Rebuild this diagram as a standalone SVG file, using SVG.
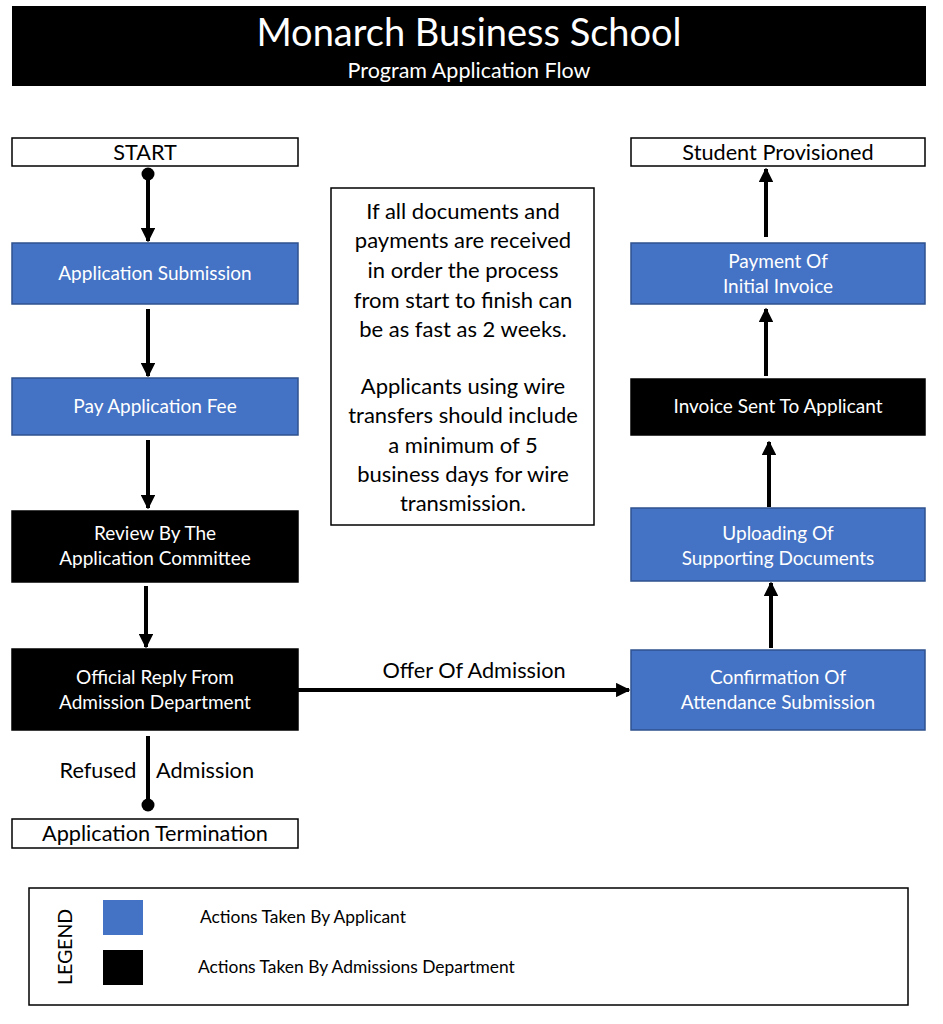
<svg xmlns="http://www.w3.org/2000/svg" width="943" height="1024" viewBox="0 0 943 1024">
<defs>
<style>
text{font-family:Lato,"Open Sans","Liberation Sans",sans-serif;text-anchor:middle}
.blue{fill:#4472C4;stroke:#2F528F;stroke-width:1.5}
.black{fill:#000;stroke:#000;stroke-width:1.5}
.white{fill:#fff;stroke:#000;stroke-width:1.5}
.wt{fill:#fff;font-size:19px}
.bt{fill:#000;font-size:21.7px}
.con{stroke:#000;stroke-width:4;fill:none}
</style>
<marker id="ah" viewBox="0 0 10 10" refX="9" refY="5" markerWidth="3.6" markerHeight="3.6" orient="auto" markerUnits="strokeWidth">
<path d="M0,0 L10,5 L0,10 z" fill="#000"/>
</marker>
</defs>
<rect width="943" height="1024" fill="#fff"/>
<g id="title">
<rect x="12" y="6" width="914" height="80" fill="#000"/>
<text x="469" y="46" fill="#fff" style="font-size:38px">Monarch Business School</text>
<text x="469" y="78" fill="#fff" style="font-size:21.5px">Program Application Flow</text>
</g>
<g id="start"><rect class="white" x="12" y="138" width="286" height="28"/><text class="bt" x="145" y="160">START</text></g>
<g id="app-sub"><rect class="blue" x="12" y="243" width="286" height="61"/><text class="wt" x="155" y="280">Application Submission</text></g>
<g id="pay-fee"><rect class="blue" x="12" y="378" width="286" height="57"/><text class="wt" x="155" y="413">Pay Application Fee</text></g>
<g id="review"><rect class="black" x="12" y="511" width="286" height="71"/><text class="wt" x="155" y="540">Review By The</text><text class="wt" x="155" y="565">Application Committee</text></g>
<g id="reply"><rect class="black" x="12" y="649" width="286" height="81"/><text class="wt" x="155" y="684">Official Reply From</text><text class="wt" x="155" y="709">Admission Department</text></g>
<g id="termination"><rect class="white" x="12" y="819" width="286" height="29"/><text class="bt" x="155" y="841">Application Termination</text></g>
<g id="provisioned"><rect class="white" x="631" y="138" width="294" height="28"/><text class="bt" x="778" y="160">Student Provisioned</text></g>
<g id="payment"><rect class="blue" x="631" y="243" width="294" height="61"/><text class="wt" x="778" y="268">Payment Of</text><text class="wt" x="778" y="293">Initial Invoice</text></g>
<g id="invoice"><rect class="black" x="631" y="379" width="294" height="56"/><text class="wt" x="778" y="413">Invoice Sent To Applicant</text></g>
<g id="uploading"><rect class="blue" x="631" y="508" width="294" height="73"/><text class="wt" x="778" y="540">Uploading Of</text><text class="wt" x="778" y="565">Supporting Documents</text></g>
<g id="confirmation"><rect class="blue" x="631" y="650" width="294" height="80"/><text class="wt" x="778" y="684">Confirmation Of</text><text class="wt" x="778" y="709">Attendance Submission</text></g>
<g id="note">
<rect class="white" x="331" y="188" width="263" height="337"/>
<g class="bt" style="font-size:22px">
<text x="463" y="219">If all documents and</text>
<text x="463" y="248">payments are received</text>
<text x="463" y="278">in order the process</text>
<text x="463" y="308">from start to finish can</text>
<text x="463" y="337">be as fast as 2 weeks.</text>
<text x="463" y="394">Applicants using wire</text>
<text x="463" y="423">transfers should include</text>
<text x="463" y="453">a minimum of 5</text>
<text x="463" y="482">business days for wire</text>
<text x="463" y="511">transmission.</text>
</g>
</g>
<g id="connectors">
<circle cx="148" cy="174" r="6.5" fill="#000"/>
<line class="con" x1="148" y1="174" x2="148" y2="241" marker-end="url(#ah)"/>
<line class="con" x1="148" y1="309" x2="148" y2="376" marker-end="url(#ah)"/>
<line class="con" x1="148" y1="440" x2="148" y2="508" marker-end="url(#ah)"/>
<line class="con" x1="146" y1="586" x2="146" y2="647" marker-end="url(#ah)"/>
<line class="con" x1="148" y1="736" x2="148" y2="805"/>
<circle cx="148" cy="805" r="6.5" fill="#000"/>
<line class="con" x1="298" y1="690" x2="629" y2="690" marker-end="url(#ah)"/>
<line class="con" x1="771" y1="648" x2="771" y2="583" marker-end="url(#ah)"/>
<line class="con" x1="769" y1="507" x2="769" y2="442" marker-end="url(#ah)"/>
<line class="con" x1="766" y1="376" x2="766" y2="309" marker-end="url(#ah)"/>
<line class="con" x1="766" y1="237" x2="766" y2="169" marker-end="url(#ah)"/>
<text class="bt" x="98" y="778">Refused</text>
<text class="bt" x="205" y="778">Admission</text>
<text class="bt" x="474" y="678">Offer Of Admission</text>
</g>
<g id="legend">
<rect x="29" y="888" width="879" height="117" fill="#fff" stroke="#000" stroke-width="1.5"/>
<text transform="translate(72,947) rotate(-90)" style="font-size:19.5px" fill="#000">LEGEND</text>
<rect x="103" y="900" width="40" height="35" fill="#4472C4"/>
<rect x="103" y="950" width="40" height="35" fill="#000"/>
<text x="200" y="923" style="font-size:17.4px;text-anchor:start" fill="#000">Actions Taken By Applicant</text>
<text x="198" y="973" style="font-size:17.4px;text-anchor:start" fill="#000">Actions Taken By Admissions Department</text>
</g>
</svg>
